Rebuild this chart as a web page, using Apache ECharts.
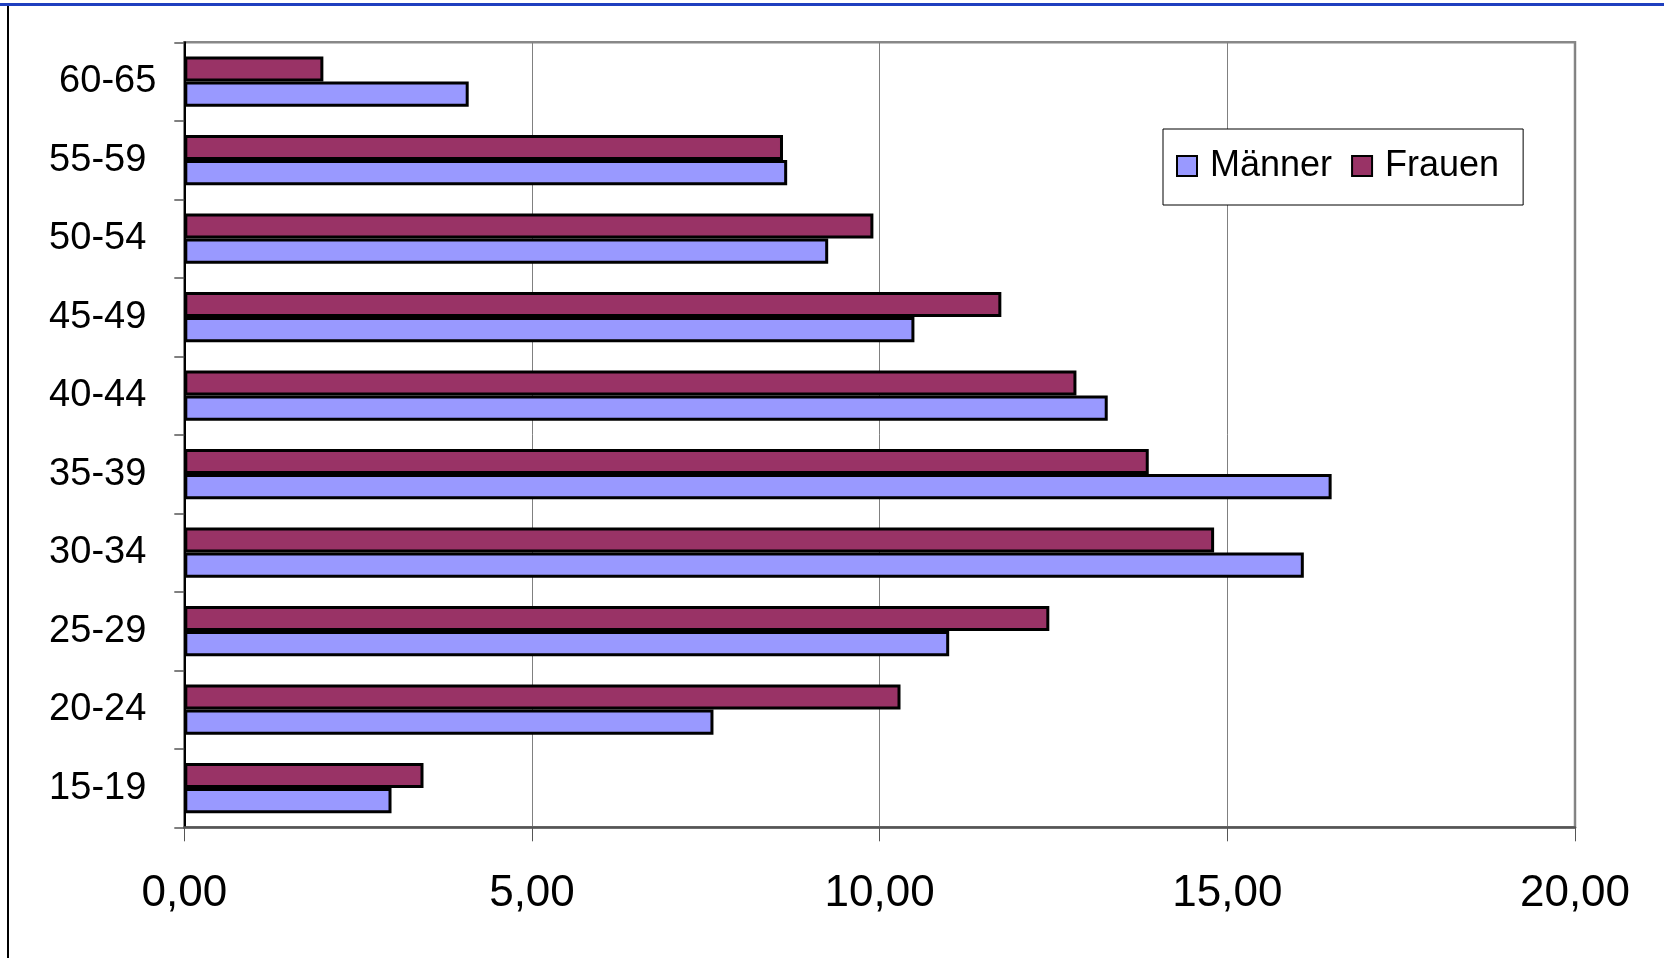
<!DOCTYPE html>
<html>
<head>
<meta charset="utf-8">
<script src="https://cdn.jsdelivr.net/npm/echarts@6/dist/echarts.min.js"></script>
<style>
html,body{margin:0;padding:0;background:#fff;}
#c{width:1664px;height:958px;}
</style>
</head>
<body>
<div id="c"></div>
<script>
// Age groups (bottom to top)
const categories = ['15-19','20-24','25-29','30-34','35-39','40-44','45-49','50-54','55-59','60-65'];
const maenner = [2.98, 7.61, 11.00, 16.10, 16.50, 13.28, 10.50, 9.26, 8.67, 4.09];
const frauen  = [3.44, 10.30, 12.44, 14.81, 13.87, 12.83, 11.75, 9.91, 8.61, 2.00];
const xTickLabels = ['0,00','5,00','10,00','15,00','20,00'];
const seriesNames = ['Männer','Frauen'];

const FONT = '"Liberation Sans", Arial, sans-serif';
const chart = echarts.init(document.getElementById('c'), null, {renderer:'canvas'});

const yData = categories.map(c => c === '60-65'
  ? {value:c}
  : {value:c, textStyle:{padding:[0,10,0,0]}});

chart.setOption({
  animation:false,
  backgroundColor:'#ffffff',
  textStyle:{fontFamily:FONT},
  graphic:[
    {type:'rect', shape:{x:0,y:3,width:1664,height:3}, style:{fill:'#1f3fbf'}, silent:true},
    {type:'rect', shape:{x:7,y:6,width:2,height:952}, style:{fill:'#000'}, silent:true}
  ],
  legend:{
    data:seriesNames,
    orient:'horizontal',
    left:1163, top:129,
    padding:[19,24,21,13],
    itemGap:19,
    itemWidth:20, itemHeight:20,
    icon:'rect',
    borderColor:'#000', borderWidth:1,
    backgroundColor:'#fff',
    textStyle:{fontSize:36, color:'#000', fontFamily:FONT, padding:[0,0,0,8]}
  },
  grid:{left:184.3, right:89, top:42.3, bottom:130.7, show:true, borderColor:'#888', borderWidth:2.5, outerBoundsMode:'none', containLabel:false},
  xAxis:{
    type:'value', min:0, max:20, interval:5,
    axisLine:{show:true, lineStyle:{color:'#555', width:2.5}},
    axisTick:{show:true, inside:false, length:14, lineStyle:{color:'#555', width:1}},
    axisLabel:{fontSize:44, color:'#000', margin:45, fontFamily:FONT,
      formatter:(v)=>xTickLabels[Math.round(v/5)]},
    splitLine:{show:true, lineStyle:{color:'#808080', width:1}}
  },
  yAxis:{
    type:'category', data:yData, boundaryGap:true,
    axisLine:{show:true, onZero:false, lineStyle:{color:'#000', width:2}},
    axisTick:{show:true, length:10, alignWithLabel:false, lineStyle:{color:'#555', width:1.5}},
    axisLabel:{fontSize:38, color:'#000', margin:28, fontFamily:FONT},
    splitLine:{show:false}
  },
  series:[
    {name:'Frauen', type:'bar', data:frauen, barGap:'0%', barCategoryGap:'36%',
      itemStyle:{color:'#993366', borderColor:'#000', borderWidth:3}},
    {name:'Männer', type:'bar', data:maenner, barGap:'0%', barCategoryGap:'36%',
      itemStyle:{color:'#9999ff', borderColor:'#000', borderWidth:3}}
  ]
});
</script>
</body>
</html>
